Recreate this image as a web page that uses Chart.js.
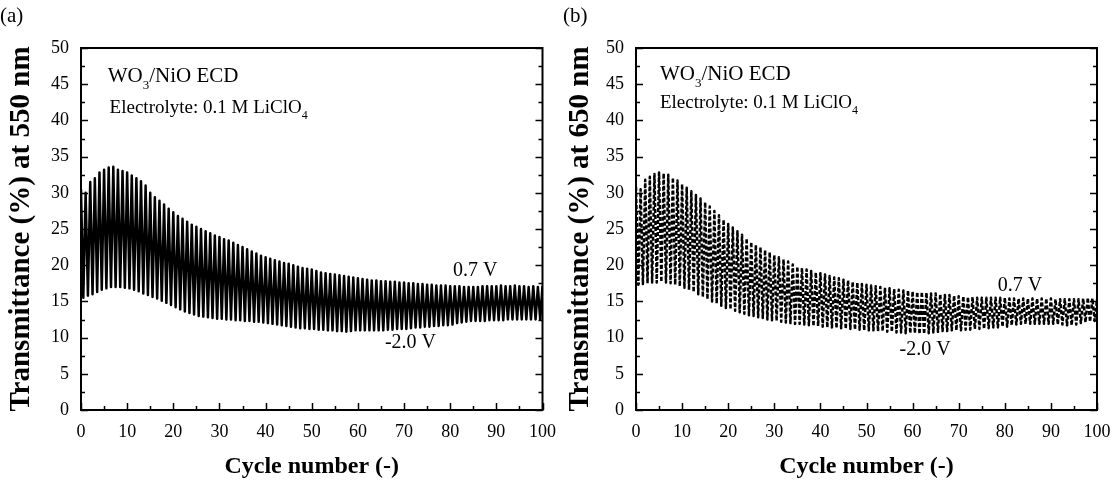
<!DOCTYPE html>
<html>
<head>
<meta charset="utf-8">
<script src="https://cdn.jsdelivr.net/npm/chart.js@4.4.0/dist/chart.umd.min.js"></script>
<style>
  body { margin: 0; background: #fff; }
  #wrap { position: relative; width: 1118px; height: 486px; }
  canvas { position: absolute; top: 0; }
  #chartA { left: 0; }
  #chartB { left: 559px; }
</style>
</head>
<body>
<div id="wrap">
  <canvas id="chartA" width="559" height="486"></canvas>
  <canvas id="chartB" width="559" height="486"></canvas>
</div>
<script>
// valores: picos (0.7 V) em cada ciclo 0..100, vales (-2.0 V) em n+0.5
const xTicks = [0, 10, 20, 30, 40, 50, 60, 70, 80, 90, 100];
const yTicks = [0, 5, 10, 15, 20, 25, 30, 35, 40, 45, 50];

const picosA = [30.5, 30.0, 31.5, 32.0, 32.8, 33.2, 33.5, 33.6, 33.2, 33.0,
  32.8, 32.4, 32.0, 31.6, 31.0, 30.0, 29.4, 28.9, 28.4, 27.8,
  27.3, 26.8, 26.4, 26.0, 25.6, 25.3, 25.0, 24.7, 24.4, 24.1,
  23.9, 23.6, 23.4, 23.1, 22.8, 22.5, 22.2, 21.9, 21.6, 21.3,
  21.1, 20.9, 20.7, 20.5, 20.3, 20.2, 20.0, 19.8, 19.6, 19.5,
  19.4, 19.2, 19.0, 18.9, 18.8, 18.7, 18.6, 18.5, 18.4, 18.3,
  18.2, 18.1, 18.0, 17.9, 17.9, 17.8, 17.8, 17.7, 17.7, 17.6,
  17.6, 17.5, 17.5, 17.4, 17.4, 17.3, 17.3, 17.2, 17.2, 17.2,
  17.1, 17.1, 17.1, 17.0, 17.0, 17.0, 17.0, 17.1, 17.1, 17.1,
  17.1, 17.2, 17.1, 17.1, 17.2, 17.1, 17.1, 17.0, 17.1, 17.0, 17.1];
const valesA = [15.5, 15.8, 16.0, 16.3, 16.6, 16.8, 17.0, 17.0, 17.0, 16.9,
  16.8, 16.6, 16.4, 16.1, 15.9, 15.6, 15.4, 15.1, 14.8, 14.5,
  14.2, 13.9, 13.6, 13.4, 13.2, 13.0, 12.9, 12.8, 12.7, 12.6,
  12.6, 12.5, 12.5, 12.4, 12.4, 12.3, 12.3, 12.2, 12.2, 12.1,
  12.0, 11.9, 11.8, 11.7, 11.6, 11.5, 11.4, 11.3, 11.3, 11.2,
  11.2, 11.1, 11.1, 11.0, 11.0, 10.9, 10.9, 10.8, 10.9, 11.0,
  11.0, 11.0, 11.0, 11.0, 11.0, 11.0, 11.1, 11.1, 11.2, 11.2,
  11.2, 11.3, 11.4, 11.4, 11.5, 11.5, 11.6, 11.6, 11.7, 11.7,
  11.8, 12.0, 12.1, 12.2, 12.3, 12.3, 12.3, 12.3, 12.4, 12.4,
  12.4, 12.4, 12.5, 12.5, 12.5, 12.5, 12.5, 12.5, 12.5, 12.5];

const picosB = [30.8, 30.5, 31.8, 32.2, 32.6, 32.8, 32.7, 32.5, 32.1, 31.7,
  31.2, 30.7, 30.2, 29.7, 29.2, 28.7, 28.1, 27.5, 26.9, 26.3,
  25.7, 25.2, 24.7, 24.2, 23.7, 23.2, 22.8, 22.5, 22.1, 21.8,
  21.4, 21.1, 20.8, 20.5, 20.1, 19.8, 19.6, 19.4, 19.2, 19.0,
  18.9, 18.7, 18.5, 18.3, 18.2, 18.0, 17.9, 17.7, 17.6, 17.4,
  17.3, 17.2, 17.1, 17.0, 16.9, 16.8, 16.7, 16.6, 16.5, 16.5,
  16.4, 16.3, 16.3, 16.2, 16.1, 16.1, 16.0, 15.9, 15.9, 15.8,
  15.7, 15.7, 15.6, 15.6, 15.5, 15.5, 15.5, 15.5, 15.5, 15.5,
  15.5, 15.4, 15.4, 15.4, 15.4, 15.4, 15.4, 15.4, 15.4, 15.4,
  15.4, 15.3, 15.3, 15.3, 15.3, 15.3, 15.3, 15.4, 15.5, 15.4, 15.3];
const valesB = [17.3, 17.4, 17.5, 17.6, 17.6, 17.7, 17.6, 17.5, 17.3, 17.1,
  16.9, 16.6, 16.3, 16.0, 15.6, 15.3, 15.0, 14.7, 14.4, 14.1,
  13.9, 13.7, 13.5, 13.3, 13.1, 13.0, 12.8, 12.7, 12.5, 12.4,
  12.3, 12.2, 12.1, 12.0, 11.9, 11.9, 11.8, 11.7, 11.6, 11.6,
  11.5, 11.4, 11.4, 11.3, 11.3, 11.2, 11.2, 11.1, 11.1, 11.0,
  11.0, 11.0, 10.9, 10.9, 10.8, 10.8, 10.7, 10.7, 10.6, 10.6,
  10.6, 10.5, 10.5, 10.6, 10.7, 10.8, 10.9, 10.9, 11.0, 11.0,
  11.0, 11.1, 11.1, 11.2, 11.2, 11.2, 11.3, 11.4, 11.4, 11.5,
  11.5, 11.7, 11.8, 11.9, 11.9, 11.9, 11.9, 11.9, 11.9, 11.9,
  11.9, 11.8, 11.8, 11.7, 11.7, 11.8, 12.0, 12.1, 12.2, 12.3];

const FONTE = "'Liberation Serif', 'Times New Roman', serif";

// monta a sequência pico/vale
function montarPontos(picos, vales) {
  const pts = [];
  for (let n = 0; n < picos.length; n++) {
    pts.push({ x: n, y: picos[n] });
    if (n < vales.length) pts.push({ x: n + 0.5, y: vales[n] });
  }
  return pts;
}

// moldura, marcas internas e textos
const molduraPlugin = {
  id: "moldura",
  afterDraw(chart, args, opts) {
    const ctx = chart.ctx;
    const a = chart.chartArea;
    const xs = chart.scales.x, ys = chart.scales.y;
    ctx.save();
    ctx.strokeStyle = "#000";
    ctx.lineWidth = 2;
    ctx.strokeRect(a.left, a.top, a.right - a.left, a.bottom - a.top);
    ctx.lineWidth = 1.5;
    ctx.beginPath();
    for (let v = 0; v <= 100; v += 5) {
      const px = Math.round(xs.getPixelForValue(v)) + 0.5;
      const len = v % 10 === 0 ? 7 : 4;
      ctx.moveTo(px, a.bottom); ctx.lineTo(px, a.bottom - len);
    }
    for (let v = 0; v <= 50; v += 2.5) {
      const py = Math.round(ys.getPixelForValue(v)) + 0.5;
      const len = v % 5 === 0 ? 7 : 4;
      ctx.moveTo(a.left, py); ctx.lineTo(a.left + len, py);
      ctx.moveTo(a.right, py); ctx.lineTo(a.right - len, py);
    }
    ctx.stroke();

    ctx.fillStyle = "#000";
    ctx.textBaseline = "middle";
    // painel
    ctx.font = "21px " + FONTE;
    ctx.textAlign = "left";
    ctx.fillText(opts.painel, opts.painelX, 16);

    // WO3/NiO ECD
    let x = xs.getPixelForValue(opts.wo3[0]);
    let y = ys.getPixelForValue(opts.wo3[1]);
    ctx.font = "21px " + FONTE;
    ctx.fillText("WO", x, y);
    x += ctx.measureText("WO").width;
    ctx.font = "13px " + FONTE;
    ctx.fillText("3", x, y + 9);
    x += ctx.measureText("3").width;
    ctx.font = "21px " + FONTE;
    ctx.fillText("/NiO ECD", x, y);

    // eletrólito
    x = xs.getPixelForValue(opts.eletro[0]);
    y = ys.getPixelForValue(opts.eletro[1]);
    ctx.font = "19px " + FONTE;
    ctx.fillText("Electrolyte: 0.1 M LiClO", x, y);
    x += ctx.measureText("Electrolyte: 0.1 M LiClO").width;
    ctx.font = "12px " + FONTE;
    ctx.fillText("4", x, y + 8);

    // tensões
    ctx.font = "20px " + FONTE;
    ctx.textAlign = "center";
    ctx.fillText("0.7 V", xs.getPixelForValue(opts.v07[0]), ys.getPixelForValue(opts.v07[1]));
    ctx.fillText("-2.0 V", xs.getPixelForValue(opts.v20[0]), ys.getPixelForValue(opts.v20[1]));
    ctx.restore();
  }
};

function criarGrafico(id, pontos, tituloY, esquerda, direita, dash, largura, textos) {
  const ctx = document.getElementById(id).getContext("2d");
  return new Chart(ctx, {
    type: "line",
    data: {
      datasets: [{
        data: pontos,
        borderColor: "#000",
        borderWidth: largura,
        borderDash: dash,
        borderJoinStyle: "round",
        pointRadius: 0,
        tension: 0,
        fill: false
      }]
    },
    options: {
      responsive: false,
      animation: false,
      layout: { padding: { top: 48, right: direita, left: 0, bottom: 0 } },
      plugins: {
        legend: { display: false },
        tooltip: { enabled: false },
        moldura: textos
      },
      scales: {
        x: {
          type: "linear",
          min: 0,
          max: 100,
          grid: { display: false },
          border: { display: false },
          afterBuildTicks: (s) => { s.ticks = xTicks.map(v => ({ value: v })); },
          afterFit: (s) => { s.height = 76; },
          ticks: { color: "#000", padding: 3, maxRotation: 0, font: { family: FONTE, size: 18 } },
          title: {
            display: true,
            text: "Cycle number (-)",
            color: "#000",
            padding: { top: 4, bottom: 5 },
            font: { family: FONTE, size: 24, weight: "bold" }
          }
        },
        y: {
          min: 0,
          max: 50,
          grid: { display: false },
          border: { display: false },
          afterBuildTicks: (s) => { s.ticks = yTicks.map(v => ({ value: v })); },
          afterFit: (s) => { s.width = esquerda; },
          ticks: { color: "#000", padding: 4, font: { family: FONTE, size: 18 } },
          title: {
            display: true,
            text: tituloY,
            color: "#000",
            padding: { top: 4, bottom: 0 },
            font: { family: FONTE, size: 29, weight: "bold" }
          }
        }
      }
    },
    plugins: [molduraPlugin]
  });
}

criarGrafico("chartA", montarPontos(picosA, valesA), "Transmittance (%) at 550 nm", 81, 13, [], 2.5, {
  painel: "(a)", painelX: 0,
  wo3: [5.8, 46.1], eletro: [6.2, 41.7], v07: [85.4, 19.3], v20: [71.4, 9.25]
});
criarGrafico("chartB", montarPontos(picosB, valesB), "Transmittance (%) at 650 nm", 77, 21, [4, 2], 2.5, {
  painel: "(b)", painelX: 4,
  wo3: [5.2, 46.3], eletro: [5.2, 42.4], v07: [83.3, 17.2], v20: [62.7, 8.3]
});
</script>
</body>
</html>
